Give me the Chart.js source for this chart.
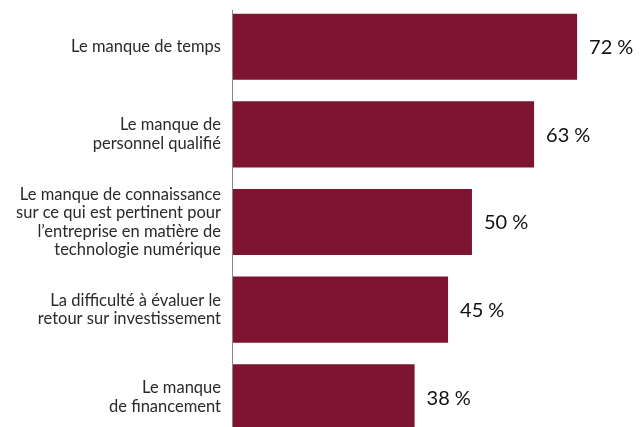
<!DOCTYPE html>
<html>
<head>
<meta charset="utf-8">
<script src="https://cdn.jsdelivr.net/npm/chart.js@4"></script>
<style>
  html, body { margin: 0; padding: 0; background: #fff; overflow: hidden; }
  #wrap { width: 644px; height: 445px; }
</style>
</head>
<body>
<div id="wrap"><canvas id="barChart" width="644" height="445"></canvas></div>
<script>
"use strict"

const categories = [
  'Le manque de temps',
  ['Le manque de', 'personnel qualifié'],
  ['Le manque de connaissance', 'sur ce qui est pertinent pour', 'l\u2019entreprise en matière de', 'technologie numérique'],
  ['La difficulté à évaluer le', 'retour sur investissement'],
  ['Le manque', 'de financement']
];
const values = [72, 63, 50, 45, 38];
const barColor = '#7D1530';

// valeurs à droite des barres + ligne d'axe
const valueLabels = {
  id: 'valueLabels',
  afterDatasetsDraw(chart) {
    const ctx = chart.ctx;
    const meta = chart.getDatasetMeta(0);
    ctx.save();
    ctx.font = '20px Lato';
    ctx.fillStyle = '#111';
    ctx.textBaseline = 'middle';
    ctx.textAlign = 'left';
    meta.data.forEach((bar, i) => {
      ctx.fillText(values[i] + '\u202F%', bar.x + 12, bar.y + 1);
    });
    const x0 = chart.scales.x.getPixelForValue(0);
    ctx.strokeStyle = '#888';
    ctx.lineWidth = 1;
    ctx.beginPath();
    ctx.moveTo(Math.round(x0) - 0.5, 10);
    ctx.lineTo(Math.round(x0) - 0.5, chart.height);
    ctx.stroke();
    ctx.restore();
  }
};

document.addEventListener("DOMContentLoaded", () => {
  drawBarChart();
});

function drawBarChart() {
  const options = {
    type: 'bar',
    data: {
      labels: categories,
      datasets: [{
        data: values,
        backgroundColor: barColor,
        borderWidth: 0,
        categoryPercentage: 1,
        barPercentage: 0.755
      }]
    },
    options: {
      indexAxis: 'y',
      responsive: false,
      animation: false,
      layout: { padding: { top: 3, bottom: 4, left: 0, right: 0 } },
      plugins: {
        legend: { display: false },
        tooltip: { enabled: false }
      },
      scales: {
        x: {
          display: false,
          min: 0,
          max: 86
        },
        y: {
          afterFit(scale) {
            scale.width = 233;
            scale.paddingTop = 0;
            scale.paddingBottom = 0;
          },
          grid: { display: false, drawTicks: false },
          border: { display: false },
          ticks: {
            color: '#2a2a2a',
            padding: 12,
            font: { family: 'Lato', size: 16.5, lineHeight: 1.12 }
          }
        }
      }
    },
    plugins: [valueLabels]
  };
  const ctx = document.getElementById('barChart');
  new Chart(ctx, options);
}
</script>
</body>
</html>
